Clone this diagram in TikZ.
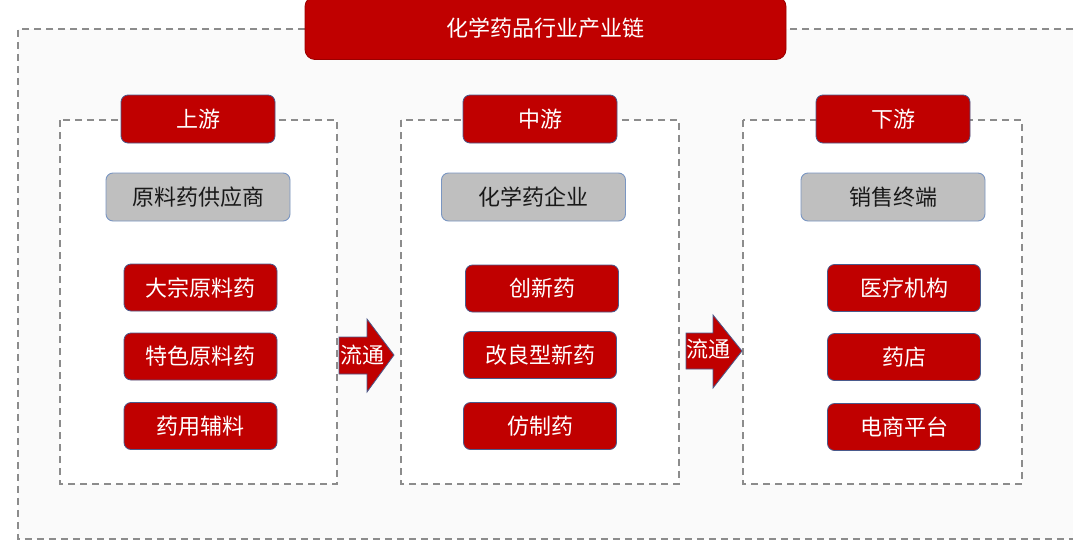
\documentclass[tikz,border=0pt]{standalone}
\usepackage{fontspec}
\newfontfamily\cjk{Noto Sans CJK SC}
\usetikzlibrary{positioning}
\definecolor{chemred}{HTML}{C00000}
\definecolor{edgeblue}{HTML}{4A5A8C}
\definecolor{grayfill}{HTML}{BFBFBF}
\definecolor{grayedge}{HTML}{7A96C2}
\definecolor{dashgray}{HTML}{8C8C8C}
\definecolor{bgpaper}{HTML}{FAFAFA}
\begin{document}
\begin{tikzpicture}[x=1pt, y=-1pt,
    every node/.style={font=\cjk\fontsize{22}{25}\selectfont},
    redbox/.style={draw=edgeblue, line width=0.8pt, fill=chemred, text=white, rounded corners=7pt, minimum width=153pt, minimum height=47pt, inner sep=0pt},
    headbox/.style={redbox, minimum width=154pt, minimum height=48pt},
    graybox/.style={draw=grayedge, line width=0.9pt, fill=grayfill, text=black!90, rounded corners=7pt, minimum width=184pt, minimum height=48pt, inner sep=0pt},
    dashbox/.style={draw=dashgray, line width=1.3pt, dash pattern=on 7pt off 5pt},
    flowarrow/.style={draw=edgeblue, line width=0.8pt, fill=chemred}]
    \useasboundingbox (0,0) rectangle (1080,555);

    % Outer frame
    \fill[bgpaper] (18,29) rectangle (1073,539);
    \draw[dashbox] (1073,29) -- (18,29) -- (18,539) -- (1073,539);
    \node[redbox, draw=chemred!80!black, rounded corners=10pt, minimum width=481pt, minimum height=63pt] (chain) at (545.5,28) {};
    \node[text=white] (chaintext) at (545.5,28) {化学药品行业产业链};

    % Three columns
    \draw[dashbox, fill=white] (60,120) rectangle (337,484);
    \draw[dashbox, fill=white] (401,120) rectangle (679,484);
    \draw[dashbox, fill=white] (743,120) rectangle (1022,484);

    \node[headbox] (up) at (198,119) {上游};
    \node[graybox] (upsup) at (198,197) {原料药供应商};
    \node[redbox] (bulk) at (200.5,287.5) {大宗原料药};
    \node[redbox] (special) at (200.5,356.5) {特色原料药};
    \node[redbox] (excip) at (200.5,426) {药用辅料};

    \node[headbox] (mid) at (540,119) {中游};
    \node[graybox] (midfirm) at (533.5,197) {化学药企业};
    \node[redbox] (innov) at (542,288.5) {创新药};
    \node[redbox] (improved) at (540,355) {改良型新药};
    \node[redbox] (generic) at (540,426) {仿制药};

    \node[headbox] (down) at (893,119) {下游};
    \node[graybox] (downend) at (893,197) {销售终端};
    \node[redbox] (hospital) at (904,288) {医疗机构};
    \node[redbox] (pharmacy) at (904,357) {药店};
    \node[redbox] (ecom) at (904,427) {电商平台};

    % Arrows
    \draw[flowarrow] (339,337) -- (367,337) -- (367,319) -- (394,355) -- (367,392) -- (367,374) -- (339,374) -- cycle;
    \node[text=white, inner sep=0pt] (flowA) at (362,355) {流通};
    \draw[flowarrow] (686,333) -- (713,333) -- (713,315) -- (742,351) -- (713,388) -- (713,369) -- (686,369) -- cycle;
    \node[text=white, inner sep=0pt] (flowB) at (708,349) {流通};
\end{tikzpicture}
\end{document}
